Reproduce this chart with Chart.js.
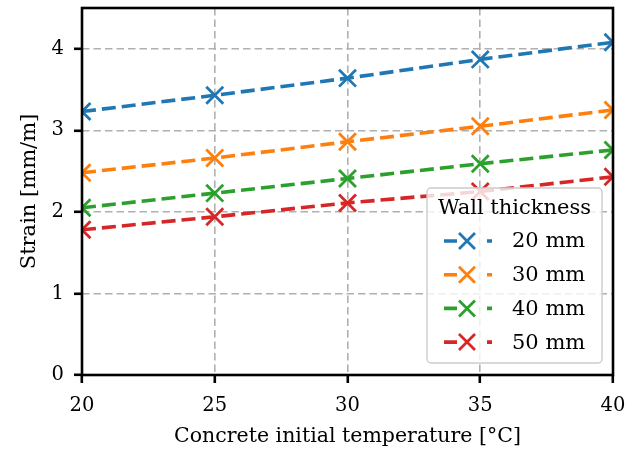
<!DOCTYPE html>
<html>
<head>
<meta charset="utf-8">
<script src="https://cdn.jsdelivr.net/npm/chart.js@4.4.1/dist/chart.umd.min.js"></script>
<style>
  html, body { margin: 0; padding: 0; background: #fff; }
  canvas { display: block; }
</style>
</head>
<body>
<canvas id="strainChart" width="640" height="453"></canvas>
<script>
// Concrete initial temperature (°C) on the x axis
const temperatures = [20, 25, 30, 35, 40];

// Strain (mm/m) per wall thickness
const thicknessLabels = ['20 mm', '30 mm', '40 mm', '50 mm'];
const strain20mm = [3.23, 3.43, 3.64, 3.87, 4.08];
const strain30mm = [2.48, 2.66, 2.86, 3.05, 3.25];
const strain40mm = [2.05, 2.23, 2.41, 2.59, 2.76];
const strain50mm = [1.78, 1.94, 2.11, 2.25, 2.43];

const xTickValues = [20, 25, 30, 35, 40];
const yTickValues = [0, 1, 2, 3, 4];

const seriesColors = ['#1f77b4', '#ff7f0e', '#2ca02c', '#d62728'];
const seriesValues = [strain20mm, strain30mm, strain40mm, strain50mm];

const FONT = "'DejaVu Serif', 'Liberation Serif', serif";
const TICK_SIZE = 19.5;
const LINE_DASH = [14, 6];

const datasets = seriesValues.map((values, i) => ({
    label: thicknessLabels[i],
    data: temperatures.map((t, j) => ({ x: t, y: values[j] })),
    borderColor: seriesColors[i],
    backgroundColor: seriesColors[i],
    borderWidth: 3.6,
    borderDash: LINE_DASH,
    pointStyle: 'crossRot',
    pointRadius: 12,
    pointBorderWidth: 2.8,
    pointHoverRadius: 12,
    tension: 0,
    clip: 0
}));

// Black frame around the plotting area (all four spines)
const axesFrame = {
    id: 'axesFrame',
    afterDatasetsDraw(chart) {
        const { ctx, chartArea: a } = chart;
        ctx.save();
        ctx.strokeStyle = '#000';
        ctx.lineWidth = 2.6;
        ctx.setLineDash([]);
        ctx.strokeRect(a.left, a.top, a.right - a.left, a.bottom - a.top);
        ctx.restore();
    }
};

// Legend box in the lower right corner of the plot
const insetLegend = {
    id: 'insetLegend',
    afterDraw(chart) {
        const { ctx, chartArea: a } = chart;
        const w = 175, h = 175;
        const left = a.right - 11 - w;
        const top = a.bottom - 12 - h;

        ctx.save();
        ctx.beginPath();
        ctx.roundRect(left, top, w, h, 4);
        ctx.fillStyle = 'rgba(255, 255, 255, 0.8)';
        ctx.fill();
        ctx.strokeStyle = '#cccccc';
        ctx.lineWidth = 1.4;
        ctx.stroke();

        ctx.fillStyle = '#000';
        ctx.font = `21px ${FONT}`;
        ctx.textBaseline = 'middle';
        ctx.textAlign = 'center';
        ctx.fillText('Wall thickness', left + w / 2, top + 21);

        ctx.textAlign = 'left';
        chart.data.datasets.forEach((ds, i) => {
            const y = top + 53 + i * 33.7;
            ctx.strokeStyle = ds.borderColor;
            ctx.lineWidth = 3.6;
            ctx.setLineDash([13, 30, 5, 0]);
            ctx.beginPath();
            ctx.moveTo(left + 17, y);
            ctx.lineTo(left + 65, y);
            ctx.stroke();

            // x marker
            const cx = left + 40, r = 8;
            ctx.setLineDash([]);
            ctx.lineWidth = 2.8;
            ctx.beginPath();
            ctx.moveTo(cx - r, y - r);
            ctx.lineTo(cx + r, y + r);
            ctx.moveTo(cx - r, y + r);
            ctx.lineTo(cx + r, y - r);
            ctx.stroke();

            ctx.fillStyle = '#000';
            ctx.fillText(ds.label, left + 85, y + 1);
        });
        ctx.restore();
    }
};

new Chart(document.getElementById('strainChart'), {
    type: 'line',
    data: { datasets },
    options: {
        responsive: false,
        animation: false,
        events: [],
        layout: { autoPadding: false, padding: { left: 0, right: 27, top: 8, bottom: 0 } },
        plugins: {
            legend: { display: false },
            tooltip: { enabled: false }
        },
        scales: {
            x: {
                type: 'linear',
                min: 20,
                max: 40,
                afterFit: (scale) => {
                    scale.height = 78;
                    scale.paddingLeft = 0;
                    scale.paddingRight = 0;
                },
                afterBuildTicks: (scale) => {
                    scale.ticks = xTickValues.map(v => ({ value: v }));
                },
                ticks: {
                    color: '#000',
                    font: { family: FONT, size: TICK_SIZE },
                    padding: 11,
                    maxRotation: 0,
                    callback: (v) => String(v)
                },
                grid: {
                    color: '#b0b0b0',
                    lineWidth: 1.6,
                    tickColor: '#000',
                    tickWidth: 2.6,
                    tickLength: 8,
                    tickBorderDash: []
                },
                border: { display: false, dash: [7.5, 4] },
                title: {
                    display: true,
                    text: 'Concrete initial temperature [°C]',
                    color: '#000',
                    font: { family: FONT, size: 20.5 },
                    padding: { top: 0, bottom: 4 }
                }
            },
            y: {
                type: 'linear',
                min: 0,
                max: 4.5,
                afterFit: (scale) => {
                    scale.width = 82;
                    scale.paddingTop = 0;
                    scale.paddingBottom = 0;
                },
                afterBuildTicks: (scale) => {
                    scale.ticks = yTickValues.map(v => ({ value: v }));
                },
                ticks: {
                    color: '#000',
                    font: { family: FONT, size: TICK_SIZE },
                    padding: 10,
                    callback: (v) => String(v)
                },
                grid: {
                    color: '#b0b0b0',
                    lineWidth: 1.6,
                    tickColor: '#000',
                    tickWidth: 2.6,
                    tickLength: 8,
                    tickBorderDash: []
                },
                border: { display: false, dash: [7.5, 4] },
                title: {
                    display: true,
                    text: 'Strain [mm/m]',
                    color: '#000',
                    font: { family: FONT, size: 21 },
                    padding: { top: 17, bottom: 0 }
                }
            }
        }
    },
    plugins: [axesFrame, insetLegend]
});
</script>
</body>
</html>
